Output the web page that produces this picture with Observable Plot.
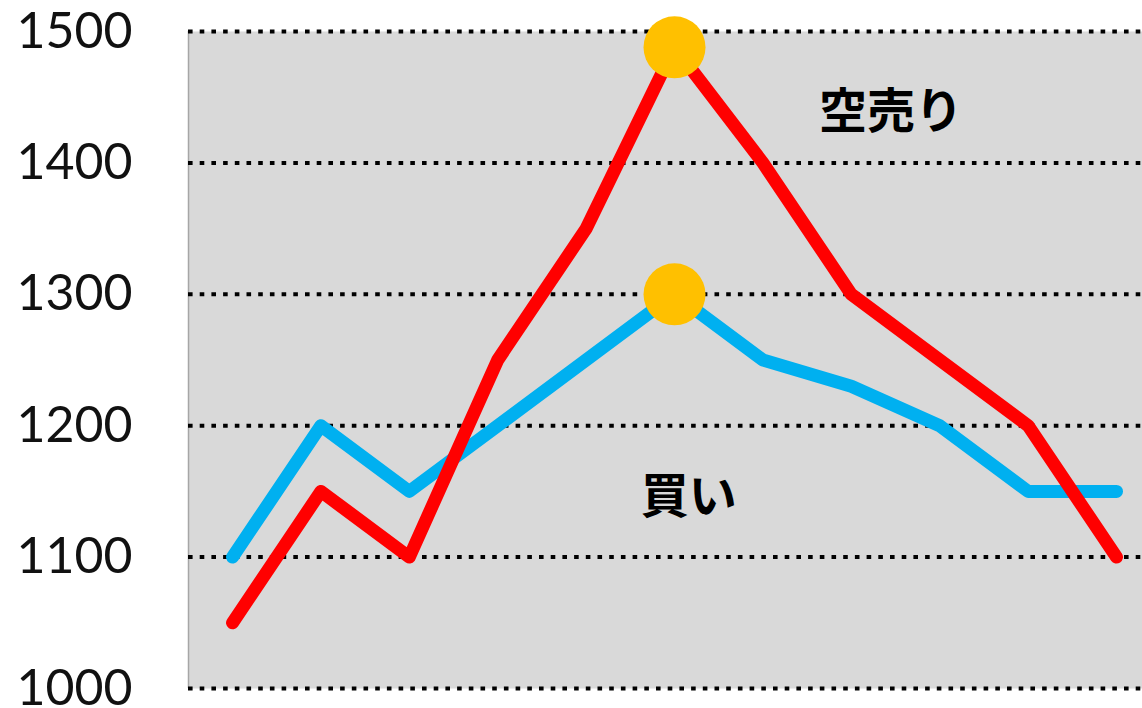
<!DOCTYPE html>
<html>
<head>
<meta charset="utf-8">
<script src="https://cdn.jsdelivr.net/npm/d3@7"></script>
<script src="https://cdn.jsdelivr.net/npm/@observablehq/plot@0.6"></script>
<style>
  html, body { margin: 0; padding: 0; background: #fff; overflow: hidden; }
  #chart svg { display: block; }
</style>
</head>
<body>
<div id="chart"></div>
<script>
// Data
const periods = [0, 1, 2, 3, 4, 5, 6, 7, 8, 9, 10];
const shortSell = [1050, 1150, 1100, 1250, 1350, 1488, 1400, 1300, 1250, 1200, 1100]; // red
const buy = [1100, 1200, 1150, 1200, 1250, 1300, 1250, 1230, 1200, 1150, 1150];       // blue
const yTicks = [1000, 1100, 1200, 1300, 1400, 1500];
const labelTexts = ["空売り", "買い"];
const labelX = [7.45, 5.16];
const labelY = [1438, 1145];

const redData = periods.map((p, i) => ({x: p, y: shortSell[i]}));
const blueData = periods.map((p, i) => ({x: p, y: buy[i]}));
const peakOf = (arr) => { const i = d3.maxIndex(arr); return {x: periods[i], y: arr[i]}; };
const peaks = [peakOf(shortSell), peakOf(buy)];
const labels = labelTexts.map((t, i) => ({text: t, x: labelX[i], y: labelY[i]}));

const xDomain = [-0.498, 10.294];

const chart = Plot.plot({
  width: 1142,
  height: 708,
  marginLeft: 188,
  marginRight: 0,
  marginTop: 31,
  marginBottom: 20,
  style: {background: "#ffffff", overflow: "visible"},
  x: {domain: xDomain, axis: null},
  y: {domain: [1000, 1500], axis: null},
  marks: [
    Plot.frame({fill: "#d9d9d9", stroke: null}),
    Plot.ruleX([xDomain[0]], {stroke: "#a6a6a6", strokeWidth: 1.5}),
    Plot.gridY(yTicks, {stroke: "#000", strokeOpacity: 1, strokeWidth: 4, strokeDasharray: "4.6,7.1"}),
    Plot.axisY(yTicks, {
      label: null, tickSize: 0, tickPadding: 56, fontSize: 50,
      fontFamily: "Lato, 'Open Sans', sans-serif",
      fill: "#111", tickFormat: d => String(d)
    }),
    Plot.line(blueData, {x: "x", y: "y", stroke: "#00B0F0", strokeWidth: 13, strokeLinecap: "round", strokeLinejoin: "round"}),
    Plot.line(redData, {x: "x", y: "y", stroke: "#FF0000", strokeWidth: 13, strokeLinecap: "round", strokeLinejoin: "round"}),
    Plot.dot(peaks, {x: "x", y: "y", r: 31, fill: "#FFC000", stroke: null}),
    Plot.text(labels, {
      x: "x", y: "y", text: "text", fontSize: 48, fontWeight: "bold",
      fontFamily: "'Noto Sans CJK JP', sans-serif", fill: "#000"
    })
  ]
});
document.getElementById("chart").appendChild(chart);
</script>
</body>
</html>
